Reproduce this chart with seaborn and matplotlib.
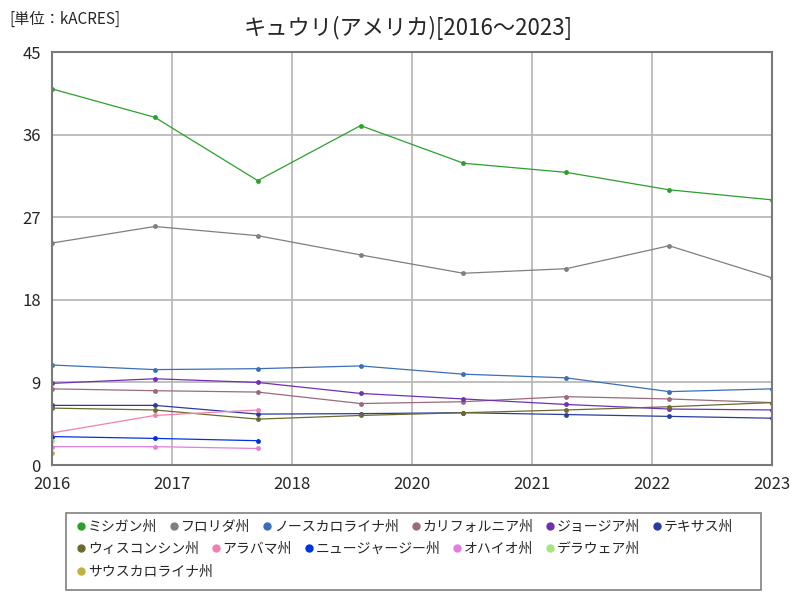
import numpy as np
import pandas as pd
import seaborn as sns
import matplotlib.pyplot as plt
from matplotlib.lines import Line2D
from matplotlib.patches import Rectangle

years = [2016, 2017, 2018, 2019, 2020, 2021, 2022, 2023]
states = ["ミシガン州", "フロリダ州", "ノースカロライナ州", "カリフォルニア州", "ジョージア州", "テキサス州",
          "ウィスコンシン州", "アラバマ州", "ニュージャージー州", "オハイオ州", "デラウェア州", "サウスカロライナ州"]
nan = np.nan
michigan = [41.0, 37.9, 31.0, 37.0, 32.9, 31.9, 30.0, 28.9]
florida = [24.2, 26.0, 25.0, 22.9, 20.9, 21.4, 23.9, 20.4]
north_carolina = [10.9, 10.4, 10.5, 10.8, 9.9, 9.5, 8.0, 8.3]
california = [8.3, 8.1, 7.95, 6.7, 6.9, 7.45, 7.2, 6.8]
georgia = [8.9, 9.4, 9.0, 7.8, 7.2, 6.6, 6.1, 6.0]
texas = [6.5, 6.5, 5.55, 5.6, 5.7, 5.5, 5.3, 5.1]
wisconsin = [6.2, 6.0, 5.0, 5.4, 5.7, 6.0, 6.35, 6.8]
alabama = [3.5, 5.4, 6.0, nan, nan, nan, nan, nan]
new_jersey = [3.1, 2.9, 2.65, nan, nan, nan, nan, nan]
ohio = [2.0, 2.0, 1.8, nan, nan, nan, nan, nan]
delaware = [2.6, nan, nan, nan, nan, nan, nan, nan]
south_carolina = [1.3, nan, nan, nan, nan, nan, nan, nan]
series = [michigan, florida, north_carolina, california, georgia, texas,
          wisconsin, alabama, new_jersey, ohio, delaware, south_carolina]
colors = ["#2ca02c", "#7f7f7f", "#3b6fb6", "#9a6b7a", "#7030b0", "#2b3c9e",
          "#6b6b30", "#f27fb0", "#0033e0", "#e07fe0", "#a6e67a", "#bdb23a"]

rows = []
for s, vals in zip(states, series):
    for y, v in zip(years, vals):
        rows.append({"year": y, "state": s, "value": v})
df = pd.DataFrame(rows).dropna()

sns.set_style("white")
plt.rcParams['font.family'] = ['Noto Sans CJK JP', 'DejaVu Sans']

fig = plt.figure(figsize=(8, 6), dpi=100)
ax = fig.add_axes([0.065, 0.225, 0.9, 0.688])

sns.lineplot(data=df, x="year", y="value", hue="state", hue_order=states,
             palette=dict(zip(states, colors)), marker="o", markersize=3.5,
             markeredgewidth=0, linewidth=0.9, ax=ax, legend=False)

ax.set_xlim(2016, 2023)
ax.set_ylim(0, 45)
xt = np.linspace(2016, 2023, 7)
ax.set_xticks(xt)
ax.set_xticklabels([str(int(round(t))) for t in xt], fontsize=12)
ax.set_yticks([0, 9, 18, 27, 36, 45])
ax.set_yticklabels(["0", "9", "18", "27", "36", "45"], fontsize=12)
ax.tick_params(length=0, pad=8)
ax.grid(True, color="#b4b4b4", linewidth=1.2)
ax.set_axisbelow(True)
for sp in ax.spines.values():
    sp.set_color("#7a7a7a")
    sp.set_linewidth(1.5)
ax.set_xlabel("")
ax.set_ylabel("")

fig.text(0.51, 0.953, "キュウリ(アメリカ)[2016～2023]", ha="center", va="center", fontsize=16)
fig.text(0.012, 0.968, "[単位：kACRES]", ha="left", va="center", fontsize=11)

# legend: one frame, three rows packed left to right (6 / 5 / 1)
fig.patches.append(Rectangle((0.0825, 0.0167), 0.869, 0.128, transform=fig.transFigure,
                             facecolor="white", edgecolor="#808080", linewidth=1.2))
handles = [Line2D([], [], linestyle="none", marker="o", markersize=5, color=c) for c in colors]
for (a, b), yy in zip([(0, 6), (6, 11), (11, 12)], [0.122, 0.085, 0.047]):
    lg = fig.legend(handles[a:b], states[a:b], ncol=b - a, loc="center left",
                    bbox_to_anchor=(0.084, yy), fontsize=10, frameon=False,
                    handletextpad=0.0, columnspacing=0.7, handlelength=1.0, borderpad=0.0)

fig.savefig("out.png", dpi=100)
